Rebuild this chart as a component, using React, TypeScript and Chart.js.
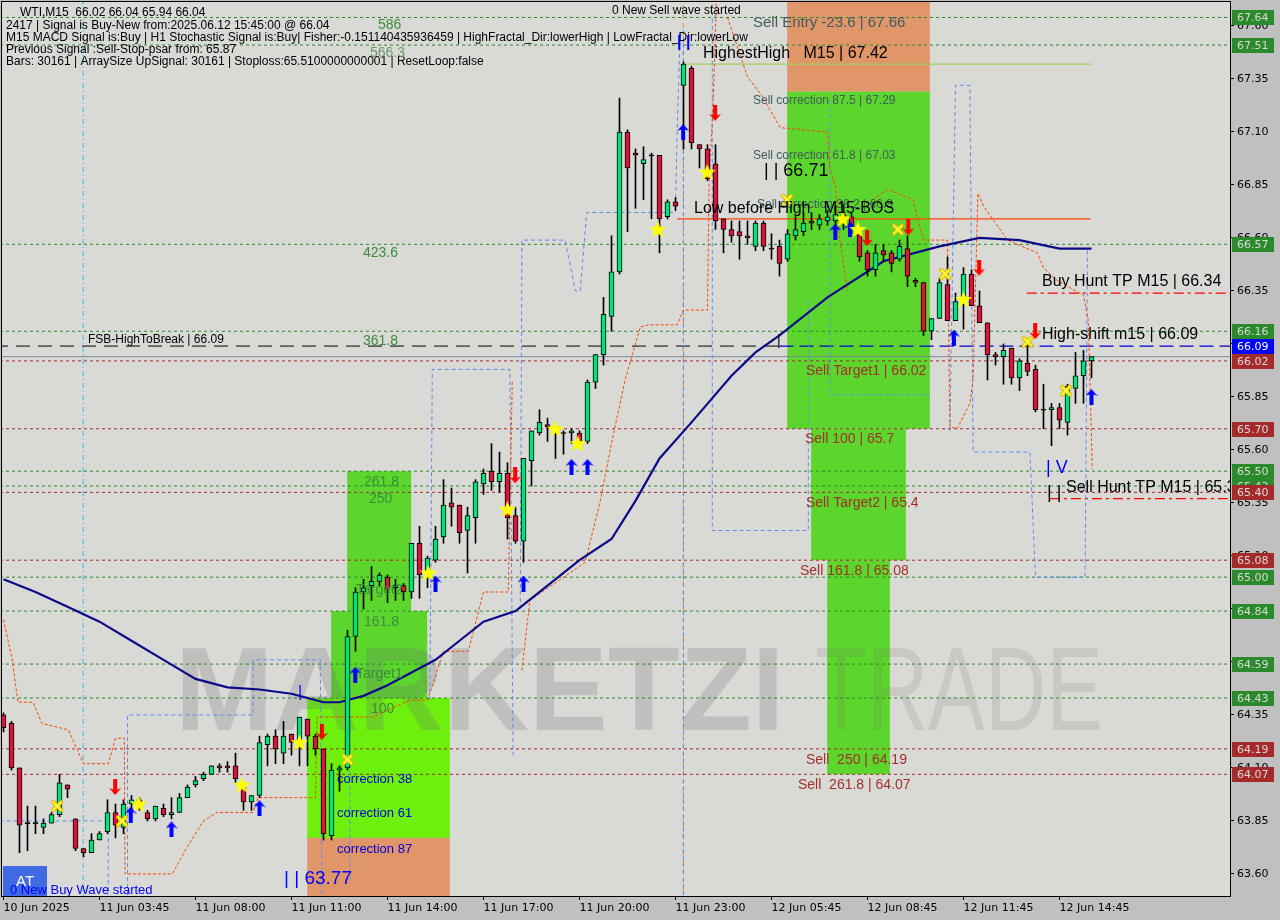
import React, { useEffect, useRef } from "react";
import { Chart, registerables } from "chart.js";

Chart.register(...registerables);

// ---------------- data ----------------
const xTickBars = [0, 12, 24, 36, 48, 60, 72, 84, 96, 108, 120, 132];
const xTickLabels = ["10 Jun 2025", "11 Jun 03:45", "11 Jun 08:00", "11 Jun 11:00", "11 Jun 14:00", "11 Jun 17:00", "11 Jun 20:00", "11 Jun 23:00", "12 Jun 05:45", "12 Jun 08:45", "12 Jun 11:45", "12 Jun 14:45"];
const yTicks = [63.6, 63.85, 64.1, 64.35, 64.6, 64.85, 65.1, 65.35, 65.6, 65.85, 66.1, 66.35, 66.6, 66.85, 67.1, 67.35, 67.6];

const opens = [
  64.35, 64.31, 64.10, 63.84, 63.84, 63.82, 63.84, 63.88, 64.02, 63.86,
  63.72, 63.70, 63.76, 63.80, 63.89, 63.82, 63.93, 63.95, 63.89, 63.86,
  63.91, 63.88, 63.89, 63.96, 64.02, 64.05, 64.07, 64.11, 64.11, 64.11,
  64.01, 63.94, 63.97, 64.21, 64.25, 64.17, 64.26, 64.22, 64.33, 64.25,
  64.19, 63.78, 64.09, 64.10, 64.72, 64.93, 64.96, 64.98, 65.00, 64.95,
  64.96, 64.93, 65.16, 65.03, 65.08, 65.19, 65.35, 65.34, 65.22, 65.28,
  65.44, 65.50, 65.45, 65.49, 65.29, 65.17, 65.55, 65.68, 65.72, 65.71,
  65.68, 65.68, 65.68, 65.64, 65.92, 66.05, 66.23, 66.44, 67.10, 67.00,
  66.95, 66.99, 66.99, 66.70, 66.77, 67.32, 67.40, 67.04, 67.02, 66.95,
  66.69, 66.64, 66.63, 66.61, 66.56, 66.67, 66.55, 66.56, 66.50, 66.61,
  66.63, 66.68, 66.66, 66.68, 66.68, 66.71, 66.70, 66.62, 66.53, 66.45,
  66.54, 66.53, 66.50, 66.55, 66.40, 66.39, 66.16, 66.22, 66.38, 66.21,
  66.30, 66.43, 66.28, 66.20, 66.05, 66.04, 66.08, 65.94, 66.01, 65.98,
  65.79, 65.79, 65.80, 65.73, 65.89, 65.95, 66.02,
];
const highs = [
  64.36, 64.32, 64.10, 63.92, 63.92, 63.86, 63.89, 64.07, 64.02, 63.86,
  63.72, 63.79, 63.80, 63.95, 63.93, 63.95, 63.97, 63.96, 63.90, 63.92,
  63.93, 63.96, 63.98, 64.02, 64.06, 64.08, 64.11, 64.12, 64.13, 64.17,
  64.03, 63.97, 64.25, 64.26, 64.28, 64.32, 64.26, 64.34, 64.33, 64.26,
  64.19, 64.12, 64.11, 64.75, 64.95, 64.99, 65.05, 65.02, 65.01, 64.99,
  64.97, 65.16, 65.24, 65.10, 65.24, 65.46, 65.42, 65.34, 65.33, 65.46,
  65.51, 65.63, 65.59, 65.54, 65.33, 65.56, 65.69, 65.79, 65.75, 65.72,
  65.69, 65.70, 65.69, 65.93, 66.05, 66.32, 66.61, 67.26, 67.11, 67.02,
  67.03, 67.00, 66.99, 66.78, 66.79, 67.43, 67.41, 67.04, 67.04, 67.04,
  66.69, 66.68, 66.68, 66.68, 66.68, 66.68, 66.62, 66.59, 66.64, 66.70,
  66.72, 66.72, 66.71, 66.73, 66.75, 66.76, 66.72, 66.65, 66.54, 66.57,
  66.57, 66.54, 66.59, 66.61, 66.41, 66.39, 66.22, 66.41, 66.51, 66.34,
  66.46, 66.45, 66.35, 66.20, 66.06, 66.10, 66.08, 66.03, 66.10, 66.00,
  65.91, 65.82, 65.82, 65.91, 66.06, 66.07, 66.04,
];
const lows = [
  64.27, 64.09, 63.70, 63.71, 63.79, 63.79, 63.84, 63.87, 63.96, 63.71,
  63.68, 63.70, 63.76, 63.79, 63.77, 63.79, 63.90, 63.90, 63.85, 63.85,
  63.87, 63.86, 63.89, 63.96, 64.01, 64.04, 64.07, 64.08, 64.08, 64.03,
  63.90, 63.90, 63.96, 64.11, 64.12, 64.12, 64.16, 64.11, 64.11, 64.16,
  63.76, 63.76, 63.99, 64.09, 64.65, 64.85, 64.89, 64.96, 64.88, 64.89,
  64.89, 64.90, 64.90, 64.95, 65.07, 65.16, 65.24, 65.16, 65.02, 65.16,
  65.39, 65.41, 65.40, 65.18, 65.16, 65.07, 65.43, 65.67, 65.64, 65.56,
  65.58, 65.63, 65.62, 65.63, 65.89, 66.00, 66.16, 66.43, 66.63, 66.74,
  66.78, 66.69, 66.53, 66.69, 66.73, 67.02, 67.02, 66.93, 66.87, 66.64,
  66.53, 66.58, 66.50, 66.57, 66.54, 66.54, 66.50, 66.42, 66.49, 66.59,
  66.61, 66.64, 66.64, 66.66, 66.63, 66.64, 66.62, 66.49, 66.42, 66.42,
  66.49, 66.44, 66.49, 66.37, 66.37, 66.14, 66.12, 66.22, 66.21, 66.21,
  66.17, 66.28, 66.20, 65.93, 66.00, 65.91, 65.91, 65.88, 65.95, 65.78,
  65.70, 65.62, 65.70, 65.67, 65.82, 65.82, 65.94,
];
const closes = [
  64.29, 64.10, 63.83, 63.84, 63.84, 63.84, 63.88, 64.03, 64.00, 63.72,
  63.70, 63.76, 63.79, 63.89, 63.83, 63.93, 63.95, 63.94, 63.86, 63.92,
  63.88, 63.89, 63.96, 64.01, 64.04, 64.07, 64.11, 64.10, 64.10, 64.05,
  63.94, 63.97, 64.22, 64.25, 64.19, 64.25, 64.22, 64.34, 64.25, 64.19,
  63.79, 64.09, 64.10, 64.72, 64.93, 64.95, 64.98, 65.01, 64.94, 64.96,
  64.93, 65.16, 65.01, 65.09, 65.18, 65.34, 65.33, 65.21, 65.29, 65.45,
  65.49, 65.45, 65.49, 65.28, 65.17, 65.56, 65.69, 65.73, 65.71, 65.69,
  65.68, 65.69, 65.64, 65.92, 66.05, 66.24, 66.44, 67.10, 66.93, 66.99,
  66.97, 66.99, 66.69, 66.77, 66.75, 67.42, 67.05, 67.02, 66.88, 66.68,
  66.64, 66.61, 66.61, 66.60, 66.67, 66.56, 66.55, 66.48, 66.62, 66.64,
  66.67, 66.67, 66.69, 66.70, 66.71, 66.69, 66.66, 66.51, 66.45, 66.53,
  66.52, 66.48, 66.56, 66.42, 66.39, 66.16, 66.22, 66.39, 66.21, 66.30,
  66.43, 66.28, 66.20, 66.05, 66.04, 66.07, 65.94, 66.02, 65.97, 65.79,
  65.79, 65.80, 65.74, 65.90, 65.95, 66.02, 66.04,
];

// moving average (read at selected bars)
const maBars = [0, 4, 8, 12, 16, 20, 24, 28, 32, 36, 40, 42, 45, 48, 51, 54, 57, 60, 64, 66, 72, 76, 79, 82, 86, 91, 94, 97, 103, 110, 117, 122, 127, 132, 136];
const maValues = [64.99, 64.93, 64.86, 64.79, 64.70, 64.61, 64.52, 64.48, 64.47, 64.45, 64.41, 64.41, 64.44, 64.49, 64.55, 64.61, 64.70, 64.79, 64.84, 64.90, 65.08, 65.18, 65.36, 65.56, 65.73, 65.95, 66.06, 66.14, 66.32, 66.49, 66.56, 66.60, 66.59, 66.55, 66.55];

// horizontal levels
const greenLevels = [67.64, 67.51, 66.57, 66.16, 65.50, 65.43, 65.00, 64.84, 64.59, 64.43];
const redLevels = [66.02, 65.70, 65.40, 65.08, 64.19, 64.07];
const bidPrice = 66.04;
const fsbLevel = 66.09;
const bosLevel = 66.69;
const highestHigh = 67.42;
const buyHuntTP = 66.34;
const sellHuntTP = 65.37;

// right-axis price tags
const tagValues = [67.64, 67.51, 66.57, 66.16, 66.09, 66.02, 65.70, 65.50, 65.43, 65.40, 65.08, 65.00, 64.84, 64.59, 64.43, 64.19, 64.07];
const tagKinds = ["g", "g", "g", "g", "b", "r", "r", "g", "g", "r", "r", "g", "g", "g", "g", "r", "r"];

// zone boxes (bar from, bar to, price top, price bottom)
const boxFrom = [37.96, 37.96, 40.96, 42.96, 97.96, 97.96, 100.96, 102.96];
const boxTo = [55.8, 55.8, 52.96, 50.96, 115.8, 115.8, 112.8, 110.8];
const boxTop = [64.43, 63.77, 64.84, 65.50, 67.9, 67.29, 65.70, 65.08];
const boxBottom = [63.77, 63.3, 64.43, 64.84, 67.29, 65.70, 65.08, 64.07];

// channel step lines [bar, price]
const orangeA = [[0, 64.8], [1.1, 64.61], [1.8, 64.41], [3.7, 64.41], [4.8, 64.31], [8.1, 64.28], [10, 64.12], [13.1, 64.12], [14, 64.24], [15.1, 64.24], [15.2, 63.6], [21.1, 63.6], [23, 63.73], [25, 63.85], [26.7, 63.89], [31.2, 63.89], [31.8, 63.96], [39, 63.96], [39.2, 64.34], [46.1, 64.34], [50.8, 64.42], [53, 64.42], [55, 64.65], [58.1, 64.65], [60, 64.93], [63.1, 64.93], [63.6, 65.93]];
const orangeB = [[64.8, 64.56], [65.8, 64.89], [67.7, 64.94], [72.7, 65.07], [74.6, 65.36], [76.1, 65.65], [77.7, 65.93], [79.6, 66.18], [80.6, 66.19], [84.2, 66.19], [85, 66.26], [88, 66.26], [88.2, 66.87], [88.7, 67.22], [89.1, 67.72]];
const orangeC = [[90.5, 67.64], [93, 67.36], [94.8, 67.27], [97.1, 67.12], [103, 67.1], [103.3, 66.93], [104, 66.84], [104.5, 66.6], [105.5, 66.35]];
const orangeD = [[108.7, 66.78], [110.5, 66.83], [113.7, 66.78], [114.2, 66.7], [115, 66.59], [118, 66.59], [118.3, 65.71], [119.2, 65.7], [120.8, 65.82], [121.2, 65.93], [121.8, 66.81], [122.5, 66.75], [125.5, 66.59], [129.2, 66.53], [130, 66.46], [131.7, 66.4], [135, 66.33], [135.6, 66.21], [135.8, 65.93], [136.1, 65.51]];
const blueA = [[-0.5, 63.85], [13.1, 63.85], [13.1, 63.5]];
const blueB = [[15.5, 63.5], [15.5, 64.35], [31.2, 64.35], [31.2, 64.61], [39.6, 64.61], [39.8, 63.5]];
const blueC = [[43.3, 63.57], [43.3, 64.48]];
const blueD = [[53.3, 64.42], [53.6, 65.98], [63.3, 65.98], [63.7, 64.16]];
const blueE = [[64.6, 64.85], [64.8, 66.59], [70.2, 66.59], [71.5, 66.35], [72.1, 66.35], [72.9, 66.72], [84, 66.72], [84.2, 67.1], [84.6, 67.58]];
const blueF = [[85, 67.58], [85, 63.5]];
const blueG = [[88.6, 67.7], [88.6, 65.22], [100.6, 65.22], [100.6, 66.31]];
const blueH = [[103.3, 67.25], [103.3, 65.86], [115.8, 65.86]];
const blueI = [[118.3, 65.69], [119, 67.32], [120.8, 67.32], [121.2, 65.59], [128.3, 65.59], [129, 65.0], [135.2, 65.0], [135.5, 66.55]];
const cyanVertical = 9.96;
const orangeVertical = 84.96;

// signal markers [bar, price]
const starMarks = [[16.9, 63.93], [29.8, 64.02], [37.0, 64.22], [53.1, 65.02], [63.0, 65.32], [69.0, 65.70], [71.8, 65.63], [81.8, 66.64], [87.96, 66.91], [104.9, 66.69], [106.8, 66.64], [120.0, 66.31]];
const crossMarks = [[6.7, 63.92], [14.8, 63.85], [43.0, 64.14], [97.96, 66.78], [111.8, 66.64], [117.7, 66.43], [128.0, 66.11], [132.8, 65.88]];
const buyArrows = [[15.9, 63.88], [21.0, 63.81], [32.0, 63.91], [43.97, 64.54], [54.0, 64.97], [65.0, 64.97], [71.0, 65.52], [73.0, 65.52], [84.96, 67.1], [103.97, 66.63], [105.8, 66.64], [118.8, 66.13], [136.0, 65.85]];
const sellArrows = [[13.96, 64.01], [39.8, 64.27], [63.96, 65.48], [88.96, 67.19], [107.96, 66.6], [113.1, 66.65], [121.96, 66.46], [128.96, 66.16]];

// ---------------- styling ----------------
const X_MIN = -0.1875;
const X_MAX = X_MIN + 153.5;
const Y_MIN = 63.496;
const Y_MAX = 67.713;
const LS = "'Liberation Sans', Arial, sans-serif";
const INFO = `12px ${LS}`;
const GREEN_TXT = "#3c8c3c";
const TEAL_TXT = "#3e5c5c";
const BROWN_TXT = "#a0302a";
const boxColors = ["#6df00e", "#e19669", "#5cd62c", "#5cd62c", "#e19669", "#5cd62c", "#5cd62c", "#5cd62c"];

const annotations: [string, number, number, string, string][] = [
  ["WTI,M15  66.02 66.04 65.94 66.04", 20, 16, INFO, "#000"],
  ["2417 | Signal is Buy-New from:2025.06.12 15:45:00 @ 66.04", 6, 29, INFO, "#000"],
  ["M15 MACD Signal is:Buy | H1 Stochastic Signal is:Buy| Fisher:-0.151140435936459 | HighFractal_Dir:lowerHigh | LowFractal_Dir:lowerLow", 6, 41, INFO, "#000"],
  ["Previous Signal :Sell-Stop-psar from: 65.87", 6, 53, INFO, "#000"],
  ["Bars: 30161 | ArraySize UpSignal: 30161 | Stoploss:65.5100000000001 | ResetLoop:false", 6, 65, INFO, "#000"],
  ["586", 378, 29, `14px ${LS}`, GREEN_TXT],
  ["566.3", 370, 57, `14px ${LS}`, "#6a9a6a"],
  ["0 New Sell wave started", 612, 14, INFO, "#000"],
  ["Sell Entry -23.6 | 67.66", 753, 27, `15px ${LS}`, TEAL_TXT],
  ["HighestHigh   M15 | 67.42", 703, 58, `16px ${LS}`, "#000"],
  ["Sell correction 87.5 | 67.29", 753, 104, `12px ${LS}`, TEAL_TXT],
  ["Sell correction 61.8 | 67.03", 753, 159, `12px ${LS}`, TEAL_TXT],
  ["| | 66.71", 764, 176, `18px ${LS}`, "#000"],
  ["Sell correction 38.2 | 66.8", 757, 208, `12px ${LS}`, TEAL_TXT],
  ["Low before High   M15-BOS", 694, 213, `16px ${LS}`, "#000"],
  ["Sell Target1 | 66.02", 806, 375, `14px ${LS}`, BROWN_TXT],
  ["Sell 100 | 65.7", 805, 443, `14px ${LS}`, BROWN_TXT],
  ["Sell Target2 | 65.4", 806, 507, `14px ${LS}`, BROWN_TXT],
  ["Sell 161.8 | 65.08", 800, 575, `14px ${LS}`, BROWN_TXT],
  ["Sell  250 | 64.19", 806, 764, `14px ${LS}`, BROWN_TXT],
  ["Sell  261.8 | 64.07", 798, 789, `14px ${LS}`, BROWN_TXT],
  ["423.6", 363, 257, `14px ${LS}`, GREEN_TXT],
  ["361.8", 363, 345, `14px ${LS}`, GREEN_TXT],
  ["FSB-HighToBreak | 66.09", 88, 343, INFO, "#000"],
  ["261.8", 364, 486, `14px ${LS}`, GREEN_TXT],
  ["250", 369, 503, `14px ${LS}`, GREEN_TXT],
  ["Target2", 356, 594, `14px ${LS}`, GREEN_TXT],
  ["161.8", 364, 626, `14px ${LS}`, GREEN_TXT],
  ["Target1", 356, 678, `14px ${LS}`, GREEN_TXT],
  ["100", 371, 713, `14px ${LS}`, GREEN_TXT],
  ["correction 38", 337, 783, `13px ${LS}`, "#0000dd"],
  ["correction 61", 337, 817, `13px ${LS}`, "#0000dd"],
  ["correction 87", 337, 853, `13px ${LS}`, "#0000dd"],
  ["| | 63.77", 284, 884, `19px ${LS}`, "#0000ff"],
  ["Buy Hunt TP M15 | 66.34", 1042, 286, `16px ${LS}`, "#000"],
  ["High-shift m15 | 66.09", 1042, 339, `16px ${LS}`, "#000"],
  ["| V", 1046, 473, `18px ${LS}`, "#0000ff"],
  ["| |", 1047, 498, `18px ${LS}`, "#000"],
  ["Sell Hunt TP M15 | 65.3", 1066, 492, `16px ${LS}`, "#000"],
  ["|", 777, 345, `14px ${LS}`, "#000"],
  ["|", 298, 697, `16px ${LS}`, "#0000ff"],
  ["| |", 677, 47, `bold 16px ${LS}`, "#0000ff"],
];

// ---------------- helpers ----------------
function makeStar() {
  const c = document.createElement("canvas");
  c.width = 19; c.height = 19;
  const g = c.getContext("2d")!;
  g.beginPath();
  for (let k = 0; k < 10; k++) {
    const r = k % 2 === 0 ? 9 : 3.8;
    const a = -Math.PI / 2 + (k * Math.PI) / 5;
    const px = 9.5 + r * Math.cos(a);
    const py = 10 + r * Math.sin(a);
    if (k === 0) g.moveTo(px, py); else g.lineTo(px, py);
  }
  g.closePath();
  g.fillStyle = "#ffff00";
  g.fill();
  return c;
}
function makeCross() {
  const c = document.createElement("canvas");
  c.width = 14; c.height = 14;
  const g = c.getContext("2d")!;
  g.lineCap = "round";
  g.strokeStyle = "#d8b400";
  g.lineWidth = 4;
  g.beginPath(); g.moveTo(3, 3); g.lineTo(11, 11); g.moveTo(11, 3); g.lineTo(3, 11); g.stroke();
  g.strokeStyle = "#ffff30";
  g.lineWidth = 2;
  g.beginPath(); g.moveTo(3, 3); g.lineTo(11, 11); g.moveTo(11, 3); g.lineTo(3, 11); g.stroke();
  return c;
}
function makeArrow(color: string, up: boolean) {
  const c = document.createElement("canvas");
  c.width = 12; c.height = 16;
  const g = c.getContext("2d")!;
  const pts = [[6, 0], [12, 7], [8, 5.5], [8, 16], [4, 16], [4, 5.5], [0, 7]];
  g.beginPath();
  pts.forEach(([px, py], k) => {
    const yy = up ? py : 16 - py;
    if (k === 0) g.moveTo(px, yy); else g.lineTo(px, yy);
  });
  g.closePath();
  g.fillStyle = color;
  g.fill();
  return c;
}

const toPts = (arr: number[][]) => arr.map(([x, y]) => ({ x, y }));
const hLine = (p: number, x0 = X_MIN - 1, x1 = X_MAX + 1) => [{ x: x0, y: p }, { x: x1, y: p }];

function lineDS(data: any[], color: string, width: number, dash: number[], order: number) {
  return {
    type: "line",
    data,
    borderColor: color,
    borderWidth: width,
    borderDash: dash,
    pointRadius: 0,
    fill: false,
    tension: 0,
    order,
  };
}

export default function App() {
  const ref = useRef<HTMLCanvasElement>(null);

  useEffect(() => {
    document.body.style.margin = "0";
    const canvas = ref.current!;
    const star = makeStar();
    const cross = makeCross();
    const upArrow = makeArrow("#0000ff", true);
    const downArrow = makeArrow("#ff0000", false);

    const idx = opens.map((_, i) => i);
    const bodyData = idx.map((i) => {
      const o = opens[i], c = closes[i];
      if (Math.abs(o - c) < 0.004) return { x: i, y: [o - 0.0025, o + 0.0025] };
      return { x: i, y: [Math.min(o, c), Math.max(o, c)] };
    });
    const bodyColors = idx.map((i) =>
      Math.abs(opens[i] - closes[i]) < 0.004 ? "#000" : closes[i] > opens[i] ? "#00e676" : "#dc143c"
    );

    const datasets: any[] = [];
    greenLevels.forEach((p) => datasets.push(lineDS(hLine(p), "#2a8a2a", 1, [3, 3], 10)));
    redLevels.forEach((p) => datasets.push(lineDS(hLine(p), "#a52a2a", 1, [3, 3], 10)));
    datasets.push(lineDS(hLine(bidPrice), "#7a8a99", 1, [], 10));
    datasets.push(lineDS(hLine(fsbLevel, X_MIN - 1, 97), "#000", 1, [14, 8], 10));
    datasets.push(lineDS(hLine(fsbLevel, 97, X_MAX + 1), "#0000cd", 1.3, [14, 6], 10));
    datasets.push(lineDS(hLine(bosLevel, 84.2, 135.9), "#ff4500", 1.3, [], 9));
    datasets.push(lineDS(hLine(highestHigh, 85, 135.9), "#9ccf60", 1.3, [], 9));
    datasets.push(lineDS(hLine(buyHuntTP, 127.9, X_MAX + 1), "#ff0000", 1.2, [10, 4, 3, 4], 9));
    datasets.push(lineDS(hLine(sellHuntTP, 130.8, X_MAX + 1), "#ff0000", 1.2, [10, 4, 3, 4], 9));
    datasets.push(lineDS([{ x: cyanVertical, y: Y_MIN - 1 }, { x: cyanVertical, y: Y_MAX + 1 }], "#30c0e0", 1, [5, 3, 1, 3], 9));
    datasets.push(lineDS([{ x: orangeVertical, y: Y_MIN - 1 }, { x: orangeVertical, y: Y_MAX + 1 }], "#e09060", 1, [5, 4], 9));
    [orangeA, orangeB, orangeC, orangeD].forEach((a) => datasets.push(lineDS(toPts(a), "#ff4500", 1, [3, 2], 8)));
    [blueA, blueB, blueC, blueD, blueE, blueF, blueG, blueH, blueI].forEach((a) => datasets.push(lineDS(toPts(a), "#5b8ff0", 1, [4, 3], 8)));
    datasets.push(lineDS(maBars.map((b, k) => ({ x: b, y: maValues[k] })), "#0b0b88", 2.2, [], 5));
    datasets.push({
      type: "bar",
      data: idx.map((i) => ({ x: i, y: [lows[i], highs[i]] })),
      backgroundColor: "#000",
      borderWidth: 0,
      barThickness: 1,
      grouped: false,
      order: 3,
    });
    datasets.push({
      type: "bar",
      data: bodyData,
      backgroundColor: bodyColors,
      borderColor: "#000",
      borderWidth: 1,
      borderSkipped: false,
      barThickness: 5,
      grouped: false,
      order: 2,
    });
    const markerDS = (pts: number[][], img: any) => ({
      type: "line",
      data: toPts(pts),
      showLine: false,
      pointStyle: img,
      pointRadius: 6,
      order: 1,
    });
    datasets.push(markerDS(starMarks, star));
    datasets.push(markerDS(crossMarks, cross));
    datasets.push(markerDS(buyArrows, upArrow));
    datasets.push(markerDS(sellArrows, downArrow));

    const bgPlugin = {
      id: "bg",
      beforeDraw(chart: any) {
        const { ctx, chartArea: a } = chart;
        ctx.save();
        ctx.fillStyle = "#c0c0c0";
        ctx.fillRect(0, 0, chart.width, chart.height);
        ctx.fillStyle = "#d9d9d6";
        ctx.fillRect(a.left, a.top, a.right - a.left, a.bottom - a.top);
        ctx.restore();
      },
      beforeDatasetsDraw(chart: any) {
        const { ctx, chartArea: a, scales } = chart;
        const xs = scales.x, ys = scales.y;
        ctx.save();
        ctx.beginPath();
        ctx.rect(a.left, a.top, a.right - a.left, a.bottom - a.top);
        ctx.clip();
        boxFrom.forEach((b0, k) => {
          const x0 = xs.getPixelForValue(b0);
          const x1 = xs.getPixelForValue(boxTo[k]);
          const y0 = ys.getPixelForValue(boxTop[k]);
          const y1 = ys.getPixelForValue(boxBottom[k]);
          ctx.fillStyle = boxColors[k];
          ctx.fillRect(x0, y0, x1 - x0, y1 - y0);
        });
        // watermark
        ctx.fillStyle = "rgba(110,110,110,0.24)";
        ctx.font = `bold 118px ${LS}`;
        ctx.textBaseline = "alphabetic";
        ctx.fillText("MARKETZI", 175, 730);
        ctx.translate(815, 730);
        ctx.scale(0.72, 1);
        ctx.fillStyle = "rgba(110,110,110,0.16)";
        ctx.font = `118px ${LS}`;
        ctx.fillText("TRADE", 0, 0);
        ctx.restore();
      },
      afterDatasetsDraw(chart: any) {
        const { ctx, chartArea: a } = chart;
        ctx.save();
        ctx.beginPath();
        ctx.rect(a.left, a.top, a.right - a.left, a.bottom - a.top);
        ctx.clip();
        ctx.textBaseline = "alphabetic";
        ctx.textAlign = "left";
        // AT box
        ctx.fillStyle = "#4169e1";
        ctx.fillRect(3, 866, 44, 30);
        ctx.fillStyle = "#fff";
        ctx.font = `15px ${LS}`;
        ctx.fillText("AT", 16, 886);
        ctx.fillStyle = "#0000ff";
        ctx.font = `13px ${LS}`;
        ctx.fillText("0 New Buy Wave started", 10, 894);
        annotations.forEach(([t, x, y, f, c]) => {
          ctx.font = f;
          ctx.fillStyle = c;
          ctx.fillText(t, x, y);
        });
        ctx.restore();
      },
      afterDraw(chart: any) {
        const { ctx, chartArea: a, scales } = chart;
        const ys = scales.y;
        ctx.save();
        ctx.font = "11px 'DejaVu Sans', sans-serif";
        ctx.textBaseline = "middle";
        tagValues.forEach((v, k) => {
          const y = Math.round(ys.getPixelForValue(v));
          const kind = tagKinds[k];
          ctx.fillStyle = kind === "g" ? "#2b8a2b" : kind === "r" ? "#a52a2a" : "#0000ff";
          ctx.fillRect(a.right + 2, y - 7, 42, 15);
          ctx.fillStyle = kind === "b" ? "#ffffff" : "#d8d8d8";
          ctx.fillText(v.toFixed(2), a.right + 7, y + 1);
        });
        ctx.strokeStyle = "#000";
        ctx.lineWidth = 1;
        ctx.strokeRect(a.left - 0.5, a.top - 0.5, a.right - a.left + 1, a.bottom - a.top + 1);
        ctx.restore();
      },
    };

    const chart = new Chart(canvas, {
      type: "bar",
      data: { datasets },
      options: {
        animation: false,
        responsive: false,
        devicePixelRatio: 1,
        events: [],
        layout: { autoPadding: false, padding: { top: 2, left: 2, right: 0, bottom: 0 } },
        plugins: { legend: { display: false }, tooltip: { enabled: false } },
        scales: {
          x: {
            type: "linear",
            min: X_MIN,
            max: X_MAX,
            offset: false,
            position: "bottom",
            afterBuildTicks: (s: any) => {
              s.ticks = xTickBars.map((v) => ({ value: v }));
            },
            afterFit: (s: any) => {
              s.height = 24;
              s.paddingLeft = 0;
              s.paddingRight = 0;
            },
            ticks: {
              autoSkip: false,
              maxRotation: 0,
              align: "start",
              padding: 2,
              color: "#000",
              font: { family: "'DejaVu Sans', sans-serif", size: 11 },
              callback: (v: any) => {
                const k = xTickBars.indexOf(Number(v));
                return k >= 0 ? xTickLabels[k] : "";
              },
            },
            grid: { display: true, drawOnChartArea: false, drawTicks: true, tickLength: 4, color: "#000", offset: false },
            border: { display: true, color: "#000" },
          },
          y: {
            type: "linear",
            position: "right",
            min: Y_MIN,
            max: Y_MAX,
            beginAtZero: false,
            afterBuildTicks: (s: any) => {
              s.ticks = yTicks.map((v) => ({ value: v }));
            },
            afterFit: (s: any) => {
              s.width = 50;
              s.paddingTop = 0;
              s.paddingBottom = 0;
            },
            ticks: {
              padding: 3,
              color: "#000",
              font: { family: "'DejaVu Sans', sans-serif", size: 11 },
              callback: (v: any) => Number(v).toFixed(2),
            },
            grid: { display: true, drawOnChartArea: false, drawTicks: true, tickLength: 4, color: "#000" },
            border: { display: true, color: "#000" },
          },
        },
      } as any,
      plugins: [bgPlugin],
    } as any);

    return () => chart.destroy();
  }, []);

  return (
    <canvas ref={ref} width={1280} height={920} style={{ display: "block", width: 1280, height: 920 }} />
  );
}
